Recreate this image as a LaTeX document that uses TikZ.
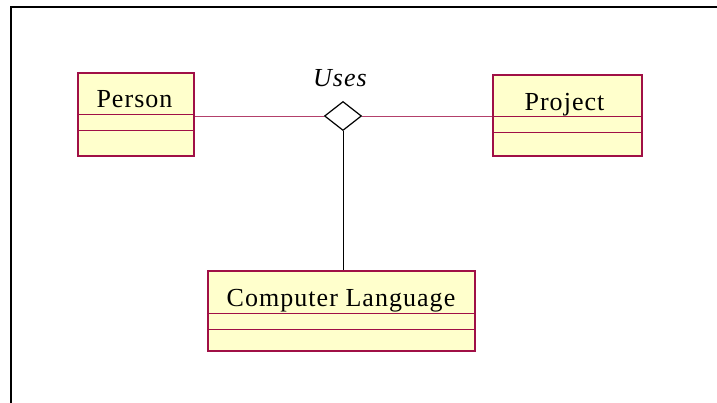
\documentclass[tikz,border=0pt]{standalone}
\usepackage{fontspec}
\setmainfont{Liberation Serif}[LetterSpace=4]
\usetikzlibrary{shapes.geometric}
\definecolor{umlborder}{RGB}{160,16,70}
\definecolor{umlfill}{RGB}{255,255,204}
\begin{document}
\begin{tikzpicture}[x=1pt,y=-1pt,
  classbox/.style={draw=umlborder,fill=umlfill,line width=1.2pt,inner sep=0pt},
  divider/.style={draw=umlborder,line width=1pt},
  lbl/.style={anchor=base,inner sep=0pt,font=\fontsize{26}{30}\selectfont},
  assoc/.style={draw=umlborder!80,line width=0.9pt},
  link/.style={draw=black,line width=0.9pt}]
\useasboundingbox (0,0) rectangle (717,403);
\fill[white] (0,0) rectangle (717,403);
% frame
\draw[line width=2.2pt] (11,403) -- (11,7) -- (717,7);
% classes
\node[classbox,minimum width=116pt,minimum height=83pt] (person) at (136,114.5) {};
\node[classbox,minimum width=149pt,minimum height=81pt] (project) at (567.5,115.5) {};
\node[classbox,minimum width=267pt,minimum height=80pt] (cl) at (341.5,311) {};
\draw[divider] (person.west |- 0,115) -- (person.east |- 0,115);
\draw[divider] (person.west |- 0,131) -- (person.east |- 0,131);
\draw[divider] (project.west |- 0,117) -- (project.east |- 0,117);
\draw[divider] (project.west |- 0,133) -- (project.east |- 0,133);
\draw[divider] (cl.west |- 0,313) -- (cl.east |- 0,313);
\draw[divider] (cl.west |- 0,329) -- (cl.east |- 0,329);
\node[lbl] (tperson) at (134.5,108) {Person};
\node[lbl] (tproject) at (564.5,111) {Project};
\node[lbl] (tcl) at (341,306) {Computer Language};
% association diamond
\node[diamond,draw=black,fill=white,line width=1.2pt,inner sep=0pt,minimum width=37pt,minimum height=29pt] (dia) at (343,116) {};
\node[lbl,font=\fontsize{26}{30}\selectfont\itshape] (uses) at (340,87) {Uses};
% connectors
\draw[assoc] (dia.west) -- (dia.west -| person.east);
\draw[assoc] (dia.east) -- (dia.east -| project.west);
\draw[link] (dia.south) -- (dia.south |- cl.north);
\end{tikzpicture}
\end{document}
